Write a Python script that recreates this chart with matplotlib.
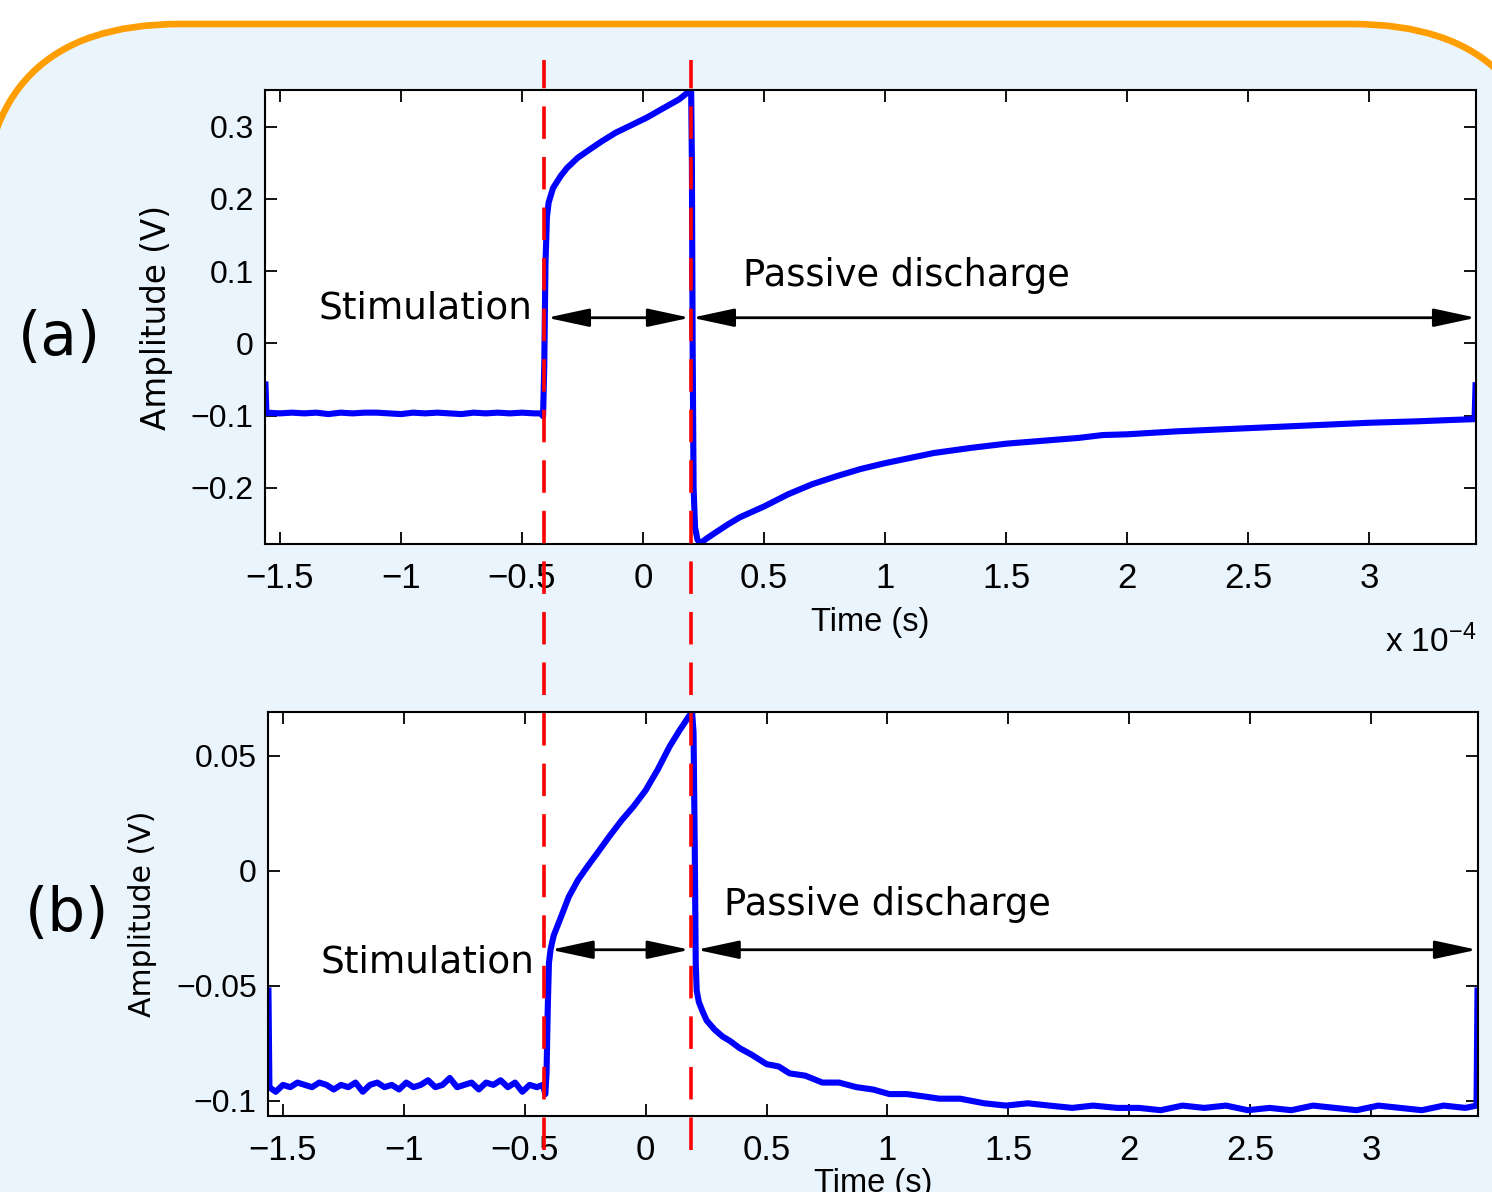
import numpy as np
import matplotlib

matplotlib.use("Agg")

import matplotlib.pyplot as plt
from matplotlib.patches import FancyBboxPatch
from matplotlib.lines import Line2D
from matplotlib.ticker import FuncFormatter

plt.rcParams["mathtext.fontset"] = "custom"
plt.rcParams["mathtext.rm"] = "Liberation Sans"
plt.rcParams["mathtext.it"] = "Liberation Sans:italic"
plt.rcParams["mathtext.bf"] = "Liberation Sans:bold"

# time axis in units of 1e-4 s
# (a) measured trace
t_a = [-1.560, -1.556, -1.50, -1.45, -1.40, -1.35, -1.30, -1.25, -1.20, -1.15,
       -1.10, -1.05, -1.00, -0.95, -0.90, -0.85, -0.80, -0.75, -0.70, -0.65,
       -0.60, -0.55, -0.50, -0.45, -0.42, -0.413, -0.408, -0.403, -0.397, -0.39,
       -0.372, -0.34, -0.314, -0.27, -0.223, -0.17, -0.112, -0.05, 0.017, 0.08,
       0.149, 0.194, 0.199, 0.202, 0.205, 0.209, 0.215, 0.225, 0.237, 0.26,
       0.30, 0.35, 0.40, 0.50, 0.60, 0.70, 0.80, 0.90, 1.00, 1.10,
       1.20, 1.35, 1.50, 1.65, 1.80, 1.90, 2.00, 2.20, 2.40, 2.60,
       2.80, 3.00, 3.20, 3.35, 3.436, 3.440]
v_a = [-0.057, -0.096, -0.097, -0.096, -0.097, -0.096, -0.098, -0.096, -0.097, -0.096,
       -0.096, -0.097, -0.098, -0.096, -0.097, -0.096, -0.097, -0.098, -0.096, -0.097,
       -0.096, -0.097, -0.096, -0.097, -0.097, -0.101, -0.03, 0.11, 0.175, 0.195,
       0.215, 0.232, 0.243, 0.257, 0.268, 0.280, 0.292, 0.302, 0.313, 0.325,
       0.338, 0.350, 0.348, 0.25, 0.0, -0.2, -0.255, -0.272, -0.277, -0.271,
       -0.262, -0.251, -0.241, -0.226, -0.209, -0.195, -0.184, -0.174, -0.166, -0.159,
       -0.152, -0.145, -0.139, -0.135, -0.131, -0.127, -0.126, -0.122, -0.119, -0.116,
       -0.113, -0.110, -0.108, -0.106, -0.105, -0.058]

# (b) measured trace
t_b = [-1.560, -1.556, -1.53, -1.50, -1.47, -1.44, -1.41, -1.38, -1.35, -1.32,
       -1.29, -1.26, -1.23, -1.20, -1.17, -1.14, -1.11, -1.08, -1.05, -1.02,
       -0.99, -0.96, -0.93, -0.90, -0.87, -0.84, -0.81, -0.78, -0.75, -0.72,
       -0.69, -0.66, -0.63, -0.60, -0.57, -0.54, -0.51, -0.48, -0.45, -0.425,
       -0.415, -0.410, -0.405, -0.400, -0.393, -0.38, -0.35, -0.318, -0.28, -0.24,
       -0.198, -0.15, -0.099, -0.05, 0.0, 0.05, 0.099, 0.14, 0.178, 0.192,
       0.198, 0.203, 0.207, 0.211, 0.22, 0.235, 0.252, 0.285, 0.318, 0.35,
       0.388, 0.44, 0.50, 0.55, 0.595, 0.66, 0.731, 0.80, 0.872, 0.94,
       1.008, 1.08, 1.15, 1.215, 1.30, 1.40, 1.49, 1.58, 1.67, 1.764,
       1.85, 1.95, 2.04, 2.13, 2.22, 2.31, 2.40, 2.49, 2.58, 2.67,
       2.76, 2.85, 2.94, 3.03, 3.12, 3.21, 3.30, 3.39, 3.436, 3.440]
v_b = [-0.052, -0.094, -0.096, -0.093, -0.094, -0.092, -0.093, -0.094, -0.092, -0.093,
       -0.095, -0.093, -0.094, -0.092, -0.096, -0.093, -0.092, -0.094, -0.093, -0.095,
       -0.092, -0.094, -0.093, -0.091, -0.094, -0.093, -0.090, -0.094, -0.093, -0.092,
       -0.095, -0.092, -0.093, -0.091, -0.094, -0.092, -0.096, -0.093, -0.094, -0.093,
       -0.097, -0.088, -0.060, -0.040, -0.034, -0.028, -0.020, -0.0113, -0.004, 0.002,
       0.008, 0.015, 0.022, 0.028, 0.035, 0.044, 0.054, 0.061, 0.067, 0.069,
       0.060, 0.010, -0.040, -0.052, -0.057, -0.061, -0.065, -0.069, -0.072, -0.074,
       -0.077, -0.080, -0.084, -0.085, -0.088, -0.089, -0.092, -0.092, -0.094, -0.095,
       -0.097, -0.097, -0.098, -0.099, -0.099, -0.101, -0.102, -0.101, -0.102, -0.103,
       -0.102, -0.103, -0.103, -0.104, -0.102, -0.103, -0.102, -0.104, -0.103, -0.104,
       -0.102, -0.103, -0.104, -0.102, -0.103, -0.104, -0.102, -0.103, -0.102, -0.052]

xticks = [-1.5, -1, -0.5, 0, 0.5, 1, 1.5, 2, 2.5, 3]
yticks_a = [-0.2, -0.1, 0, 0.1, 0.2, 0.3]
yticks_b = [-0.1, -0.05, 0, 0.05]

# stimulation start / end (1e-4 s)
t_on = -0.41
t_off = 0.20

BG = "#EAF4FD"
ORANGE = "#FF9E00"
TICKFONT = "Liberation Sans"


def fmt(v, pos):
    return ("%g" % v).replace("-", "\u2212")


fig = plt.figure(figsize=(14.92, 11.92), dpi=100, facecolor="white")

# poster background box
bg = fig.add_axes([0, 0, 1, 1], zorder=-1)
bg.set_xlim(0, 1492)
bg.set_ylim(1192, 0)
bg.axis("off")
bg.add_patch(FancyBboxPatch((-18, 24), 1568, 1400,
                            boxstyle="round,pad=0,rounding_size=198",
                            fc=BG, ec=ORANGE, lw=4.8))


def style_axes(ax, ylim, yticks, ylab_x, ylab_size, xlab_y, exp_y):
    ax.set_xlim(-1.562, 3.442)
    ax.set_ylim(*ylim)
    ax.set_xticks(xticks)
    ax.set_yticks(yticks)
    ax.xaxis.set_major_formatter(FuncFormatter(fmt))
    ax.yaxis.set_major_formatter(FuncFormatter(fmt))
    ax.tick_params(direction="in", length=8.5, width=1.3, top=True, right=True,
                   labelfontfamily=TICKFONT)
    ax.tick_params(axis="x", labelsize=25, pad=13)
    ax.tick_params(axis="y", labelsize=23, pad=8)
    for s in ax.spines.values():
        s.set_linewidth(1.5)
    ax.set_ylabel("Amplitude (V)", fontsize=ylab_size, family="DejaVu Sans")
    ax.yaxis.set_label_coords(ylab_x, 0.5)
    ax.set_xlabel("Time (s)", fontsize=23.5, family=TICKFONT, va="center")
    ax.xaxis.set_label_coords(0.5, xlab_y)
    ax.text(1.0, exp_y, "x 10$^{-4}$", transform=ax.transAxes, ha="right",
            va="baseline", fontsize=24, family=TICKFONT)


def arrow(ax, x0, x1, y):
    ax.annotate("", xy=(x1, y), xytext=(x0, y),
                arrowprops=dict(arrowstyle="<|-|>,head_length=1.3,head_width=0.28",
                                mutation_scale=20, lw=2.0, color="black",
                                shrinkA=0, shrinkB=0))


# (a)
ax1 = fig.add_axes([0.1776, 0.5436, 0.8117, 0.3809], facecolor="white")
ax1.plot(t_a, v_a, color="#0000FF", lw=4.4, solid_joinstyle="round")
style_axes(ax1, (-0.278, 0.351), yticks_a, -0.076, 23.5, -0.172, -0.239)
arrow(ax1, -0.397, 0.194, 0.0355)
arrow(ax1, 0.202, 3.442, 0.0355)
ax1.text(-0.459, 0.034, "Stimulation", ha="right", va="baseline", fontsize=27)
ax1.text(0.413, 0.080, "Passive discharge", ha="left", va="baseline", fontsize=26.5)

# (b)
ax2 = fig.add_axes([0.1796, 0.0638, 0.811, 0.3389], facecolor="white")
ax2.plot(t_b, v_b, color="#0000FF", lw=4.4, solid_joinstyle="round")
style_axes(ax2, (-0.1065, 0.069), yticks_b, -0.092, 21.5, -0.166, -0.27)
arrow(ax2, -0.393, 0.182, -0.0343)
arrow(ax2, 0.211, 3.438, -0.0343)
ax2.text(-0.459, -0.0443, "Stimulation", ha="right", va="baseline", fontsize=27)
ax2.text(0.326, -0.0191, "Passive discharge", ha="left", va="baseline", fontsize=26.5)

fig.text(0.012, 0.7164, "(a)", fontsize=43, ha="left", va="center")
fig.text(0.0168, 0.2324, "(b)", fontsize=43, ha="left", va="center")

# red dashed markers across both panels
inv = fig.transFigure.inverted()
for t in (t_on, t_off):
    xf = inv.transform(ax1.transData.transform((t, 0)))[0]
    fig.add_artist(Line2D([xf, xf], [0.035, 0.95], transform=fig.transFigure,
                          color="red", lw=2.6, dashes=(9, 5), zorder=5))

fig.savefig("out.png", dpi=100, facecolor="white")
